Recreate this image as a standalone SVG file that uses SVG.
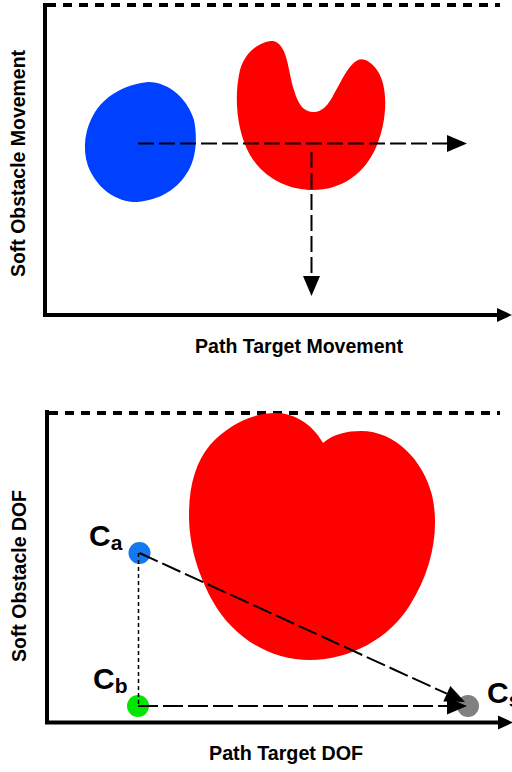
<svg xmlns="http://www.w3.org/2000/svg" width="512" height="772" viewBox="0 0 512 772">
<style>
.axis{stroke:#000;stroke-width:4;fill:none}
.top{stroke:#000;stroke-width:4;fill:none;stroke-dasharray:9,7}
.lbl{font-family:"Liberation Sans",Arial,Helvetica,sans-serif;font-weight:bold;fill:#000}
.dash1{stroke:#000;stroke-width:2;fill:none;stroke-dasharray:16,5}
.dash2{stroke:#000;stroke-width:2;fill:none;stroke-dasharray:20,5}
.dot{stroke:#000;stroke-width:1.5;fill:none;stroke-dasharray:4,3}
</style>
<defs>
<marker id="ah" markerUnits="userSpaceOnUse" markerWidth="21" markerHeight="18" refX="0" refY="8.5" orient="auto" overflow="visible">
<path d="M0,0 L20,8.5 L0,17 Z" fill="#000"/>
</marker>
<marker id="axh" markerUnits="userSpaceOnUse" markerWidth="16" markerHeight="16" refX="0" refY="7" orient="auto" overflow="visible">
<path d="M0,0 L15,7 L0,14 Z" fill="#000"/>
</marker>
</defs>
<rect width="512" height="772" fill="#fff"/>

<!-- Top panel -->
<g id="top-axes">
<line class="top" x1="47" y1="5" x2="500" y2="5"/>
<line class="axis" x1="45" y1="3" x2="45" y2="317"/>
<line class="axis" x1="43" y1="315" x2="497" y2="315" marker-end="url(#axh)"/>
<text class="lbl" x="299" y="353" font-size="21" text-anchor="middle" textLength="208" lengthAdjust="spacingAndGlyphs">Path Target Movement</text>
<text class="lbl" font-size="21" text-anchor="middle" transform="translate(25,163.5) rotate(-90)" textLength="227" lengthAdjust="spacingAndGlyphs">Soft Obstacle Movement</text>
</g>
<g id="blue-blob">
<path d="M148,82 C170,82 188,100 194,120 C198,140 196,162 185,176 C172,195 150,202 133,202 C112,200 96,186 88,166 C82,148 85,128 95,112 C108,92 130,84 148,82 Z" fill="#0040ff"/>
</g>
<g id="red-u">
<path d="M273,41 C260,41 245,52 240,70 C234,95 236,130 250,155 C265,180 290,190 313,190 C340,190 365,175 377,145 C388,118 388,85 377,70 C370,60 362,58 358,60 C348,65 342,80 335,92 C328,106 322,112 314,112 C303,112 298,104 294,90 C288,72 288,44 273,41 Z" fill="#ff0000"/>
</g>

<!-- Bottom panel -->
<g id="bottom-axes">
<line class="top" x1="49" y1="413" x2="500" y2="413"/>
<line class="axis" x1="47" y1="410" x2="47" y2="724"/>
<line class="axis" x1="45" y1="722.5" x2="498" y2="722.5" marker-end="url(#axh)"/>
<text class="lbl" x="286" y="760" font-size="21" text-anchor="middle" textLength="154" lengthAdjust="spacingAndGlyphs">Path Target DOF</text>
<text class="lbl" font-size="21" text-anchor="middle" transform="translate(26,576) rotate(-90)" textLength="172" lengthAdjust="spacingAndGlyphs">Soft Obstacle DOF</text>
</g>
<g id="red-heart">
<path d="M276,413 C295,413 313,425 323,443 C333,434 347,431 361,431 C395,431 423,460 432,495 C440,530 432,570 410,605 C390,638 350,660 310,660 C270,660 233,638 212,600 C195,568 189,540 189,515 C189,485 196,462 210,445 C228,425 252,413 276,413 Z" fill="#ff0000"/>
</g>
<g id="node-ca">
<circle cx="139.5" cy="553" r="11" fill="#1478f0"/>
<text class="lbl" x="89" y="546" font-size="30">C<tspan font-size="21" dy="4">a</tspan></text>
</g>
<g id="node-cb">
<circle cx="138" cy="706" r="11" fill="#00e600"/>
<text class="lbl" x="93" y="689" font-size="30">C<tspan font-size="21" dy="4">b</tspan></text>
</g>
<g id="node-cs">
<circle cx="468" cy="706" r="11" fill="#808080"/>
<text class="lbl" x="487" y="703" font-size="30">C<tspan font-size="21" dy="4">s</tspan></text>
</g>

<g id="connectors">
<line class="dash1" x1="138" y1="143.5" x2="447" y2="143.5" marker-end="url(#ah)"/>
<line class="dash1" x1="311.5" y1="152" x2="311.5" y2="276" marker-end="url(#ah)"/>
<line class="dot" x1="138.5" y1="553" x2="138.5" y2="706"/>
<line class="dash2" x1="139.5" y1="553" x2="446.8" y2="693.7" marker-end="url(#ah)"/>
<line class="dash2" x1="138" y1="706" x2="447" y2="706" marker-end="url(#ah)"/>
</g>
</svg>
